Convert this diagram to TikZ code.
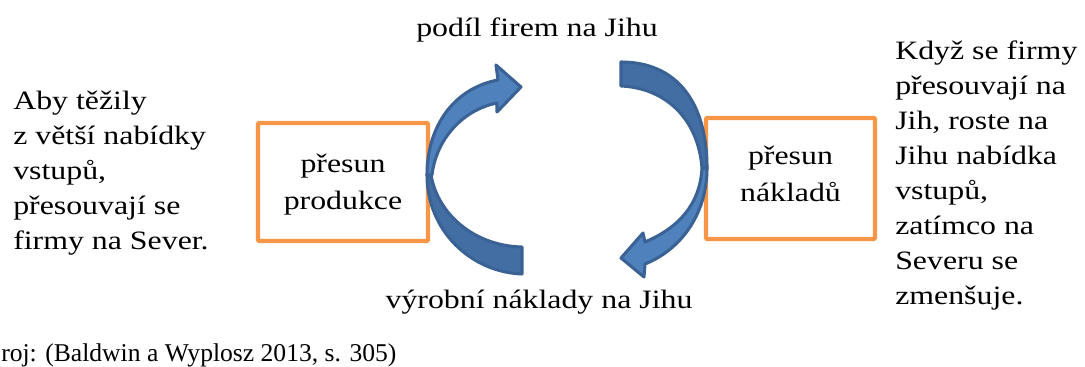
\documentclass[tikz,border=0pt]{standalone}
\usepackage{fontspec}
\setmainfont{Liberation Serif}
\newfontfamily\figfont{Liberation Serif}[FakeStretch=1.2]
\definecolor{boxorange}{HTML}{F79646}
\definecolor{arrowlight}{HTML}{4F81BD}
\definecolor{arrowdark}{HTML}{426EA4}
\definecolor{arrowline}{HTML}{3A6294}
\begin{document}
\begin{tikzpicture}[x=0.75pt,y=-0.75pt,
  figtext/.style={inner sep=0pt, font=\figfont\fontsize{19.9}{26.2}\selectfont},
  boxtext/.style={inner sep=0pt, font=\figfont\fontsize{19.9}{27.75}\selectfont},
  stepbox/.style={draw=boxorange, line width=3.3pt, rounded corners=1pt, inner sep=0pt},
  arrowpart/.style={draw=arrowline, line width=2.3pt, line join=round}
]
\useasboundingbox (0,0) rectangle (1085,367);

% boxes
\node[stepbox, minimum width=127.5pt, minimum height=88.5pt] (prod) at (343,182) {};
\node[boxtext] (prodlbl) at ([yshift=-1.5pt]prod.center)
  {\begin{tabular}{@{}c@{}}přesun\\produkce\end{tabular}};
\node[stepbox, minimum width=126.75pt, minimum height=90.75pt] (cost) at (790.5,178.5) {};
\node[boxtext] (costlbl) at ([yshift=2.5pt]cost.center)
  {\begin{tabular}{@{}c@{}}přesun\\nákladů\end{tabular}};

% left curved arrow: tail part
\filldraw[arrowpart, fill=arrowdark]
  (427,175) .. controls (427,230) and (470,272) .. (522,274)
  -- (522,247)
  .. controls (475,246) and (438,215) .. (431,175) -- cycle;
% left curved arrow: head part
\filldraw[arrowpart, fill=arrowlight]
  (427,175) .. controls (427,125) and (455,88) .. (498,80)
  -- (496,65) -- (521,87) -- (497,112) -- (497,103)
  .. controls (462,110) and (436,140) .. (432,175) -- cycle;

% right curved arrow: tail part
\filldraw[arrowpart, fill=arrowdark]
  (707,168) .. controls (707,100) and (675,62) .. (621,62)
  -- (621,86)
  .. controls (665,88) and (698,118) .. (702,168) -- cycle;
% right curved arrow: head part
\filldraw[arrowpart, fill=arrowlight]
  (707,168) .. controls (707,215) and (680,250) .. (645,264)
  -- (644,277) -- (621,258) -- (643,233) -- (645,242)
  .. controls (678,228) and (700,205) .. (702,168) -- cycle;

% labels
\node[figtext, anchor=base] (share) at (537,37) {podíl firem na Jihu};
\node[figtext, anchor=base] (costs) at (539,308) {výrobní náklady na Jihu};
\node[figtext, anchor=base west] (north) at (13,110)
  {\begin{tabular}[t]{@{}l@{}}Aby těžily\\z větší nabídky\\vstupů,\\přesouvají se\\firmy na Sever.\end{tabular}};
\node[figtext, anchor=base west] (south) at (895,60)
  {\begin{tabular}[t]{@{}l@{}}Když se firmy\\přesouvají na\\Jih, roste na\\Jihu nabídka\\vstupů,\\zatímco na\\Severu se\\zmenšuje.\end{tabular}};
\node[inner sep=0pt, anchor=base west, font=\fontsize{19.2}{22}\selectfont] (src) at (1,361)
  {roj: (Baldwin a Wyplosz 2013, s. 305)};
\end{tikzpicture}
\end{document}
